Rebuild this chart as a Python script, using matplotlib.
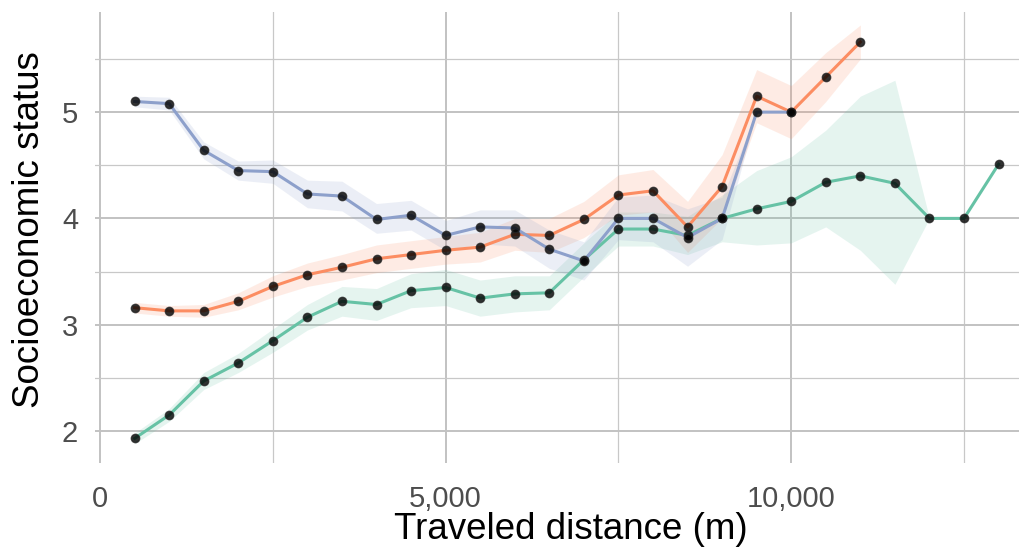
import numpy as np
import matplotlib.pyplot as plt
from matplotlib.ticker import FuncFormatter, MultipleLocator

plt.rcParams['font.family'] = ['Liberation Sans', 'DejaVu Sans']

# distances (m)
dist_blue = np.arange(500, 10001, 500)
dist_orange = np.arange(500, 11001, 500)
dist_green = np.arange(500, 13001, 500)

blue = [5.10, 5.08, 4.64, 4.45, 4.44, 4.23, 4.21, 3.99, 4.03, 3.84, 3.92, 3.91, 3.71, 3.60,
        4.00, 4.00, 3.82, 4.00, 5.00, 5.00]
blue_lo = [5.05, 5.02, 4.56, 4.36, 4.33, 4.10, 4.07, 3.86, 3.89, 3.70, 3.76, 3.74, 3.53, 3.42,
           3.80, 3.78, 3.55, 3.80, 5.00, 5.00]
blue_hi = [5.15, 5.14, 4.72, 4.54, 4.55, 4.36, 4.35, 4.14, 4.17, 3.98, 4.08, 4.08, 3.89, 3.78,
           4.20, 4.22, 4.09, 4.20, 5.00, 5.00]

orange = [3.16, 3.13, 3.13, 3.22, 3.36, 3.47, 3.54, 3.62, 3.66, 3.70, 3.73, 3.85, 3.84, 3.99,
          4.22, 4.26, 3.92, 4.30, 5.15, 5.00, 5.33, 5.66]
orange_lo = [3.11, 3.08, 3.07, 3.14, 3.26, 3.36, 3.42, 3.49, 3.53, 3.57, 3.59, 3.70, 3.68, 3.82,
             4.03, 4.06, 3.68, 4.00, 4.90, 4.75, 5.10, 5.50]
orange_hi = [3.21, 3.18, 3.19, 3.30, 3.46, 3.58, 3.66, 3.75, 3.79, 3.83, 3.87, 4.00, 4.00, 4.16,
             4.41, 4.46, 4.16, 4.60, 5.40, 5.25, 5.56, 5.82]

green = [1.93, 2.15, 2.47, 2.64, 2.85, 3.07, 3.22, 3.19, 3.32, 3.35, 3.25, 3.29, 3.30, 3.61,
         3.90, 3.90, 3.84, 4.00, 4.09, 4.16, 4.34, 4.40, 4.33, 4.00, 4.00, 4.51]
green_lo = [1.88, 2.09, 2.39, 2.55, 2.74, 2.95, 3.08, 3.04, 3.16, 3.18, 3.08, 3.12, 3.14, 3.45,
            3.74, 3.74, 3.66, 3.78, 3.75, 3.77, 3.92, 3.70, 3.38, 4.00, 4.00, 4.51]
green_hi = [1.98, 2.21, 2.55, 2.73, 2.96, 3.19, 3.36, 3.34, 3.48, 3.52, 3.42, 3.46, 3.46, 3.77,
            4.06, 4.06, 4.02, 4.22, 4.45, 4.58, 4.83, 5.15, 5.30, 4.00, 4.00, 4.51]

series = [
    (dist_green, green, green_lo, green_hi, '#66c2a5'),
    (dist_orange, orange, orange_lo, orange_hi, '#fc8d62'),
    (dist_blue, blue, blue_lo, blue_hi, '#8da0cb'),
]

fig = plt.figure(figsize=(10.2, 5.55), dpi=100)
ax = fig.add_axes([0.093, 0.166, 0.907, 0.812])

for x, y, lo, hi, c in series:
    ax.fill_between(x, lo, hi, color=c, alpha=0.17, linewidth=0, zorder=2)
for x, y, lo, hi, c in series:
    ax.plot(x, y, color=c, lw=2.2, zorder=3)
    ax.plot(x, y, 'o', color='black', ms=6, alpha=0.8, mec='#222222', zorder=4)

ax.set_xlim(-75, 13310)
ax.set_ylim(1.70, 5.94)
ax.xaxis.set_major_locator(MultipleLocator(5000))
ax.xaxis.set_minor_locator(MultipleLocator(2500))
ax.yaxis.set_major_locator(MultipleLocator(1))
ax.yaxis.set_minor_locator(MultipleLocator(0.5))
ax.xaxis.set_major_formatter(FuncFormatter(lambda v, p: f'{int(v):,}'))

ax.grid(which='major', color='#c2c2c2', lw=1.4, zorder=0)
ax.grid(which='minor', color='#c8c8c8', lw=0.9, zorder=0)
ax.set_axisbelow(True)
for s in ax.spines.values():
    s.set_visible(False)
ax.tick_params(which='both', length=0, labelsize=21, labelcolor='#4d4d4d')
ax.tick_params(axis='x', pad=16)
ax.tick_params(axis='y', pad=12)

ax.set_xlabel('Traveled distance (m)', fontsize=26.5, color='black')
ax.set_ylabel('Socioeconomic status', fontsize=26.5, color='black')
ax.xaxis.set_label_coords(0.514, -0.11)
ax.yaxis.set_label_coords(-0.052, 0.517)

fig.savefig('out.png', dpi=100)
